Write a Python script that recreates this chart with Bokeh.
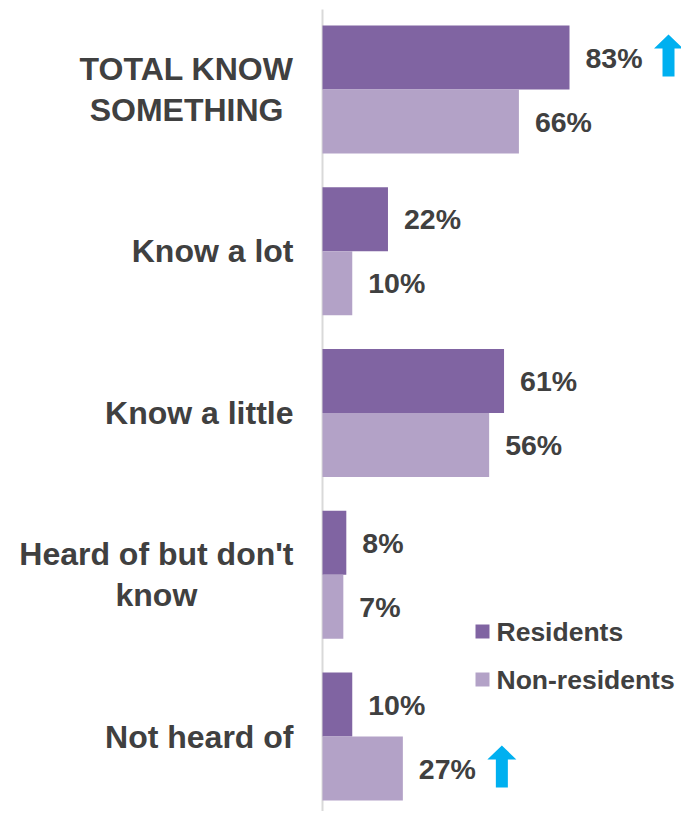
from bokeh.plotting import figure
from bokeh.models import ColumnDataSource, Range1d
from bokeh.core.properties import value
from bokeh.embed import file_html
from bokeh.resources import INLINE

# ---- data ----
categories = ["TOTAL KNOW\nSOMETHING", "Know a lot", "Know a little",
              "Heard of but don't\nknow", "Not heard of"]
residents = [83, 22, 61, 8, 10]
non_residents = [66, 10, 56, 7, 27]
resident_up = [True, False, False, False, False]
non_resident_up = [False, False, False, False, True]
series_names = ["Residents", "Non-residents"]

# ---- style ----
C_RES = "#8064A2"
C_NON = "#B3A2C7"
C_TXT = "#404040"
C_ARROW = "#00B0F0"
FONT = value("Liberation Sans")

W, H = 681, 811
X0_PX = 322.0          # canvas px of value 0
SX = 2.976             # px per percent
Y0_PX = 89.0           # canvas px of first category centre
SY = 161.75            # px per category

x_start = -X0_PX / SX
x_end = (W - X0_PX) / SX
y_top = -Y0_PX / SY
y_bottom = (H - Y0_PX) / SY

p = figure(width=W, height=H, output_backend="svg", toolbar_location=None,
           x_range=Range1d(x_start, x_end), y_range=Range1d(y_bottom, y_top),
           x_axis_location=None, y_axis_location=None, min_border=0)
p.outline_line_color = None
p.grid.visible = False
p.background_fill_color = None
p.border_fill_color = "white"

BAR_H = 64 / SY
n = len(categories)
idx = list(range(n))
y_res = [i - BAR_H / 2 for i in idx]
y_non = [i + BAR_H / 2 for i in idx]

src = ColumnDataSource(dict(
    cat=categories, y=idx, y_res=y_res, y_non=y_non,
    res=residents, non=non_residents,
    res_lbl=[f"{v}%" for v in residents],
    non_lbl=[f"{v}%" for v in non_residents],
))

# axis line
p.segment(x0=[0], y0=[y_top + 9 / SY], x1=[0], y1=[y_bottom], line_color="#D9D9D9", line_width=2)

p.hbar(y="y_res", left=0, right="res", height=BAR_H, color=C_RES, line_color=None, source=src)
p.hbar(y="y_non", left=0, right="non", height=BAR_H, color=C_NON, line_color=None, source=src)

# value labels
for col, ycol in (("res", "y_res"), ("non", "y_non")):
    p.text(x=col, y=ycol, text=col + "_lbl", source=src, x_offset=16,
           text_font=FONT, text_font_style="bold", text_font_size="28.5px",
           text_color=C_TXT, text_align="left", text_baseline="middle")

# category labels
p.text(x=-29 / SX, y="y", text="cat", source=src, anchor="center_right",
       text_font=FONT, text_font_style="bold", text_font_size="32px",
       text_color=C_TXT, text_align="center", text_baseline="middle",
       text_line_height=1.13)

# significance arrows
shape = [(0, -21), (14.5, -7), (6, -7), (6, 21), (-6, 21), (-6, -7), (-14.5, -7)]
xs, ys = [], []
for vals, flags, ypos in ((residents, resident_up, y_res), (non_residents, non_resident_up, y_non)):
    for v, f, yy in zip(vals, flags, ypos):
        if f:
            xc = v + 99 / SX
            yc = yy - 2 / SY
            xs.append([xc + dx / SX for dx, dy in shape])
            ys.append([yc + dy / SY for dx, dy in shape])
p.patches(xs, ys, fill_color=C_ARROW, line_color=None)

# legend (manual)
leg_x = (482 - X0_PX) / SX
leg_ys = [y_top + 631 / SY, y_top + 679 / SY]
leg_src = ColumnDataSource(dict(x=[leg_x, leg_x], y=leg_ys, name=series_names,
                                color=[C_RES, C_NON]))
p.scatter(x="x", y="y", marker="square", size=14, color="color", line_color=None, source=leg_src)
p.text(x="x", y="y", text="name", source=leg_src, x_offset=14,
       text_font=FONT, text_font_style="bold", text_font_size="26.5px",
       text_color=C_TXT, text_align="left", text_baseline="middle")

open("out.html", "w").write(file_html(p, INLINE))
